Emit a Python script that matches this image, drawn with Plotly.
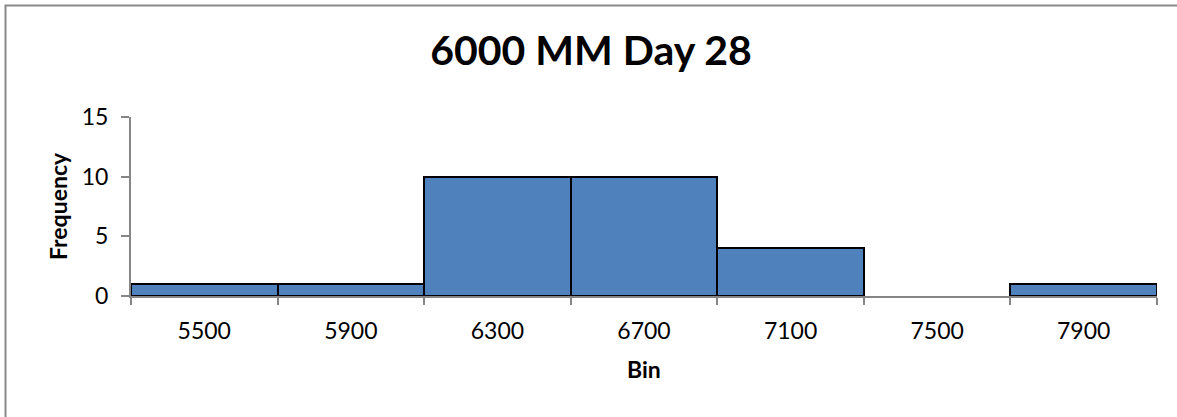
import plotly.graph_objects as go

# Histogram bins and their counts
bins = ["5500", "5900", "6300", "6700", "7100", "7500", "7900"]
frequency = [1, 1, 10, 10, 4, 0, 1]
y_ticks = [0, 5, 10, 15]

W, H = 1177, 417
L, R, T, B = 131, 20, 117, 121
pw, ph = W - L - R, H - T - B

FONT = "Lato"
GRAY = "#868686"


def px_x(x):
    """Page x pixel -> paper coordinate."""
    return (x - L) / pw


def px_y(y):
    """Page y pixel (from top) -> paper coordinate."""
    return (H - B - y) / ph


# Empty bins get no outline so the axis line shows through
outline = ["black" if v > 0 else "rgba(0,0,0,0)" for v in frequency]

fig = go.Figure(
    go.Bar(
        x=bins,
        y=frequency,
        marker=dict(color="#4F81BD", line=dict(color=outline, width=2)),
        width=1.0,
    )
)

fig.update_layout(
    width=W,
    height=H,
    margin=dict(l=L, r=R, t=T, b=B),
    paper_bgcolor="white",
    plot_bgcolor="white",
    showlegend=False,
    bargap=0,
    title=dict(
        text="<b>6000 MM Day 28</b>",
        x=591 / W,
        xanchor="center",
        y=1 - 51 / H,
        yanchor="middle",
        yref="container",
        font=dict(family=FONT, size=41, color="black"),
    ),
    font=dict(family=FONT, color="black"),
)

fig.update_xaxes(
    type="category",
    range=[-0.5, 6.5],
    tickson="boundaries",
    ticks="outside",
    ticklen=7,
    tickwidth=2,
    tickcolor=GRAY,
    ticklabelstandoff=13,
    showline=True,
    linecolor=GRAY,
    linewidth=2,
    showgrid=False,
    zeroline=False,
    tickfont=dict(family=FONT, size=23, color="black"),
)

fig.update_yaxes(
    range=[0, 15],
    tickvals=y_ticks,
    ticks="outside",
    ticklen=8,
    tickwidth=2,
    tickcolor=GRAY,
    ticklabelstandoff=8,
    showline=True,
    linecolor=GRAY,
    linewidth=2,
    showgrid=False,
    zeroline=False,
    tickfont=dict(family=FONT, size=23, color="black"),
)

# Axis titles
fig.add_annotation(
    text="<b>Bin</b>",
    xref="paper", yref="paper",
    x=px_x(644), y=px_y(369),
    xanchor="center", yanchor="middle",
    showarrow=False,
    font=dict(family=FONT, size=23, color="black"),
)
fig.add_annotation(
    text="<b>Frequency</b>",
    xref="paper", yref="paper",
    x=px_x(58), y=px_y(206),
    xanchor="center", yanchor="middle",
    textangle=-90,
    showarrow=False,
    font=dict(family=FONT, size=23, color="black"),
)

# Outer chart frame (open to the right and bottom edges of the page)
fig.add_shape(
    type="rect",
    xref="paper",
    yref="paper",
    x0=px_x(5.5),
    x1=px_x(W + 10),
    y0=px_y(H + 10),
    y1=px_y(5.5),
    line=dict(color="#898989", width=2),
    fillcolor="rgba(0,0,0,0)",
    layer="above",
)

fig.write_html("out.html")
